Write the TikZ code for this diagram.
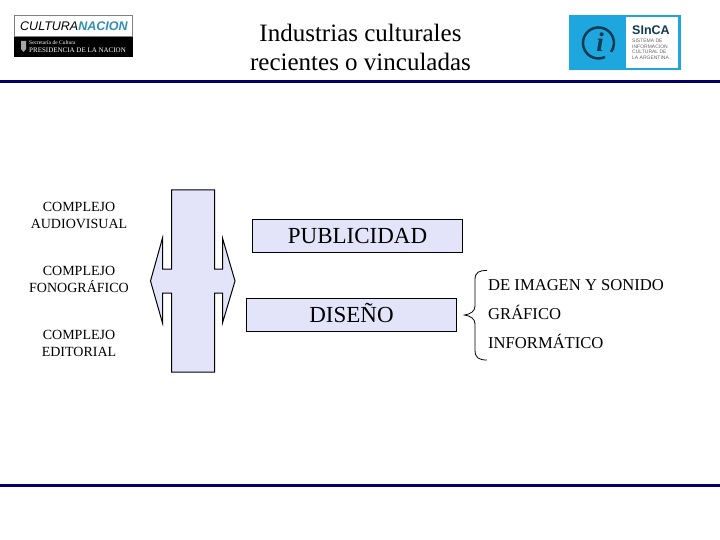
\documentclass[tikz,border=0pt]{standalone}
\usepackage{fontspec}
\setmainfont{Liberation Serif}
\setsansfont{Liberation Sans}
\usetikzlibrary{arrows.meta, positioning}
\definecolor{panel}{HTML}{E3E3FA}
\definecolor{navybar}{HTML}{000066}
\definecolor{sincablue}{HTML}{1EA7DE}
\definecolor{sincadark}{HTML}{123A50}
\definecolor{nacionblue}{HTML}{2F8FB5}
\begin{document}
\begin{tikzpicture}[
		x=1pt, y=-1pt,
		node distance=30pt,
		sector/.style={align=center, inner sep=0pt, minimum height=34pt, font=\fontsize{14}{17}\selectfont},
		mainbox/.style={rectangle, draw, fill=panel, line width=1pt, minimum width=210pt, minimum height=33.5pt, inner sep=0pt, text height=15pt, text depth=0pt, font=\fontsize{23}{26}\selectfont},
		branch/.style={inner sep=0pt, text height=11pt, text depth=0pt, font=\fontsize{16.6}{18}\selectfont},
		bar/.style={draw=navybar, line width=3pt}
		]
		\useasboundingbox (0,0) rectangle (720,540);
		
		% Title and rules
		\node (title) [align=center, inner sep=0pt, font=\fontsize{25}{29}\selectfont] at (360.5,47) {Industrias culturales\\recientes o vinculadas};
		\draw [bar] (0,82) -- (720,82);
		\draw [bar] (0,485) -- (720,485);
		
		% Left logo
		\fill [white] (14,15) rectangle (132.5,37);
		\fill [black] (14,36.5) rectangle (132.5,57.5);
		\draw [gray, line width=0.5pt] (14,15) rectangle (132.5,36.5);
		\node (cultura) [anchor=west, inner sep=0pt, font=\sffamily\itshape\fontsize{12.5}{14}\selectfont] at (20,26) {CULTURA\textcolor{nacionblue}{\bfseries NACION}};
		\node (secretaria) [anchor=west, inner sep=0pt, text=white, font=\fontsize{5.5}{6}\selectfont] at (29,43) {Secretaría de Cultura};
		\node (presidencia) [anchor=west, inner sep=0pt, text=white, font=\fontsize{7}{8}\selectfont] at (29,50) {PRESIDENCIA DE LA NACION};
		\fill [gray!70] (21,41) -- (26,41) -- (26,49) -- (23.5,52) -- (21,49) -- cycle;
		
		% Right logo
		\fill [sincablue] (569,15) rectangle (681,70);
		\fill [white] (626,17) rectangle (678,68);
		\draw [sincadark, line width=2.5pt] (605,57) arc (65:395:15.5);
		\node (info) [inner sep=0pt, text=sincadark, font=\bfseries\itshape\fontsize{27}{27}\selectfont] at (600,42) {i};
		\node (sinca) [anchor=west, inner sep=0pt, text=sincadark, font=\sffamily\bfseries\fontsize{12.5}{13}\selectfont] at (632,30) {SInCA};
		\node (sincatext) [anchor=north west, align=left, inner sep=0pt, text=gray!80!black, font=\sffamily\fontsize{5}{5.6}\selectfont] at (632,39) {SISTEMA DE\\INFORMACION\\CULTURAL DE\\LA ARGENTINA};
		
		% Nodes
		\node (audiovisual) [sector] at (79,215.5) {COMPLEJO\\AUDIOVISUAL};
		\node (fonografico) [sector, below=30pt of audiovisual] {COMPLEJO\\FONOGRÁFICO};
		\node (editorial) [sector, below=29pt of fonografico] {COMPLEJO\\EDITORIAL};
		\node (publicidad) [mainbox] at (357.5,236.2) {PUBLICIDAD};
		\node (diseno) [mainbox] at (351.5,315.2) {DISEÑO};
		\node (grafico) [branch, anchor=west] at (488,314) {GRÁFICO};
		\node (imagen) [branch, above=29pt of grafico.west, anchor=west] {DE IMAGEN Y SONIDO};
		\node (informatico) [branch, below=29pt of grafico.west, anchor=west] {INFORMÁTICO};
		
		% Double arrow
		\draw [fill=panel, line width=1pt] (171.5,190) -- (214.5,190) -- (214.5,269) -- (222.5,269) -- (222.5,238) -- (235,281) -- (222.5,323) -- (222.5,293) -- (214.5,293) -- (214.5,372) -- (171.5,372) -- (171.5,293) -- (162.5,293) -- (162.5,323) -- (150.5,281) -- (162.5,238) -- (162.5,269) -- (171.5,269) -- cycle;
		
		% Brace
		\coordinate (bracetop) at (487,270.5);
		\coordinate (bracebot) at (487,360);
		\coordinate (bracetip) at (464.5,315);
		\draw [line width=0.8pt] (bracetop) .. controls (479,270.5) and (475,272) .. (475,280) -- (475,306) .. controls (475,311) and (471,314) .. (bracetip) .. controls (471,316) and (475,319) .. (475,324) -- (475,350) .. controls (475,358) and (479,360) .. (bracebot);
		
	\end{tikzpicture}
\end{document}
